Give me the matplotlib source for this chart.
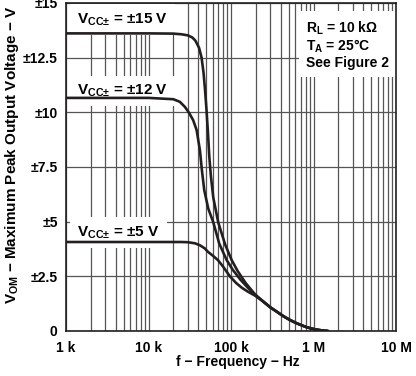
import numpy as np
import matplotlib
matplotlib.use("Agg")
import matplotlib.pyplot as plt
from matplotlib.ticker import FixedLocator, NullFormatter

plt.rcParams["font.family"] = ["Liberation Sans", "DejaVu Sans"]
plt.rcParams["font.weight"] = "bold"
plt.rcParams["mathtext.fontset"] = "custom"
plt.rcParams["mathtext.rm"] = "Liberation Sans:bold"
plt.rcParams["mathtext.bf"] = "Liberation Sans:bold"
plt.rcParams["mathtext.it"] = "Liberation Sans:bold"

# curve data (Hz, volts)
f_15 = [1e3, 1e4, 2e4, 2.5e4, 3e4, 3.4e4, 3.7e4, 4.1e4, 4.4e4, 4.65e4, 4.85e4,
        5.05e4, 5.25e4, 5.45e4, 5.7e4, 6.1e4, 7e4, 8.5e4, 1.02e5, 1.2e5, 1.5e5,
        1.95e5, 2.4e5, 3e5, 3.6e5, 4.3e5, 5.2e5, 6.2e5, 7.2e5, 8.3e5, 9.5e5,
        1.1e6, 1.3e6, 1.5e6]
v_15 = [13.61, 13.61, 13.6, 13.57, 13.52, 13.42, 13.28, 12.95, 12.5, 11.8, 11.0,
        10.1, 9.1, 8.0, 7.1, 6.1, 4.97, 3.95, 3.24, 2.75, 2.2,
        1.68, 1.38, 1.08, 0.88, 0.68, 0.5, 0.36, 0.26, 0.17, 0.11,
        0.06, 0.02, 0.0]

f_12 = [1e3, 1e4, 2e4, 2.4e4, 2.76e4, 3.1e4, 3.48e4, 3.83e4, 4.2e4, 4.44e4,
        4.74e4, 5.3e4, 6.1e4, 7.2e4, 8.87e4, 1.05e5, 1.3e5, 1.6e5,
        1.95e5, 2.4e5, 3e5, 3.6e5, 4.3e5, 5.2e5, 6.2e5, 7.2e5, 8.3e5, 9.5e5,
        1.1e6, 1.3e6, 1.5e6]
v_12 = [10.66, 10.66, 10.6, 10.48, 10.25, 9.98, 9.64, 9.19, 8.27, 7.35,
        6.44, 5.6, 4.97, 4.0, 3.24, 2.8, 2.35, 1.98,
        1.66, 1.38, 1.08, 0.88, 0.68, 0.5, 0.36, 0.26, 0.17, 0.11,
        0.06, 0.02, 0.0]

f_5 = [1e3, 1e4, 2.5e4, 3e4, 3.66e4, 4.2e4, 4.8e4, 5.26e4, 6e4, 6.95e4, 8e4,
       9.7e4, 1.15e5, 1.35e5, 1.6e5, 1.95e5, 2.4e5, 3e5, 3.6e5, 4.3e5, 5.2e5,
       6.2e5, 7.2e5, 8.3e5, 9.5e5, 1.1e6, 1.3e6, 1.5e6]
v_5 = [4.07, 4.07, 4.07, 4.06, 4.01, 3.92, 3.78, 3.62, 3.45, 3.24, 2.95,
       2.5, 2.2, 1.98, 1.8, 1.62, 1.38, 1.08, 0.88, 0.68, 0.5,
       0.36, 0.26, 0.17, 0.11, 0.06, 0.02, 0.0]

x_ticks = [1e3, 1e4, 1e5, 1e6, 1e7]
x_labels = ["1 k", "10 k", "100 k", "1 M", "10 M"]
y_ticks = [0, 2.5, 5, 7.5, 10, 12.5, 15]
y_labels = ["0", "±2.5", "±5", "±7.5", "±10", "±12.5", "±15"]

fig = plt.figure(figsize=(4.16, 3.76), dpi=100)
ax = fig.add_axes([66 / 416, 1 - 331 / 376, 330 / 416, 328 / 376])

ax.set_xscale("log")
ax.set_xlim(1e3, 1e7)
ax.set_ylim(0, 15)

minor = [m * 10 ** d for d in range(3, 7) for m in range(2, 10)]
ax.xaxis.set_minor_locator(FixedLocator(minor))
ax.xaxis.set_minor_formatter(NullFormatter())
ax.set_xticks(x_ticks)
ax.set_xticklabels(x_labels)
ax.set_yticks(y_ticks)
ax.set_yticklabels(y_labels)
ax.tick_params(which="both", length=0, labelsize=10)
ax.tick_params(axis="x", pad=7)
ax.tick_params(axis="y", pad=6)

ax.grid(True, which="both", axis="x", color="#555555", lw=0.9)
ax.grid(True, which="major", axis="y", color="#555555", lw=0.9)
ax.set_axisbelow(True)
for s in ax.spines.values():
    s.set_linewidth(1.2)
    s.set_color("#231f20")
    s.set_zorder(6)

for f, v in [(f_15, v_15), (f_12, v_12), (f_5, v_5)]:
    ax.plot(f, v, color="#231f20", lw=1.9, solid_capstyle="round", zorder=5)

box = dict(facecolor="white", edgecolor="none", pad=5)
x_lab = 1.37e3
ax.text(x_lab, 14.07, "V$_{\\mathbf{CC±}}$ = ±15 V", fontsize=11, ha="left",
        va="baseline", bbox=box, zorder=4)
ax.text(x_lab, 10.82, "V$_{\\mathbf{CC±}}$ = ±12 V", fontsize=11, ha="left",
        va="baseline", bbox=box, zorder=4)
ax.text(x_lab, 4.33, "V$_{\\mathbf{CC±}}$ = ±5 V", fontsize=11, ha="left",
        va="baseline", bbox=box, zorder=4)
ax.text(8.1e5, 14.25, "R$_{\\mathbf{L}}$ = 10 kΩ\nT$_{\\mathbf{A}}$ = 25°C\nSee Figure 2",
        fontsize=10, ha="left", va="top", linespacing=1.08, bbox=box, zorder=4)

fig.text(12 / 416, 1 - 155 / 376, "V$_{\\mathbf{OM}}$ − Maximum Peak Output Voltage − V",
         rotation=90, ha="center", va="center", fontsize=11)
fig.text(238 / 416, 1 - 362 / 376, "f − Frequency − Hz", ha="center", va="center",
         fontsize=10)

fig.savefig("out.png", dpi=100)
